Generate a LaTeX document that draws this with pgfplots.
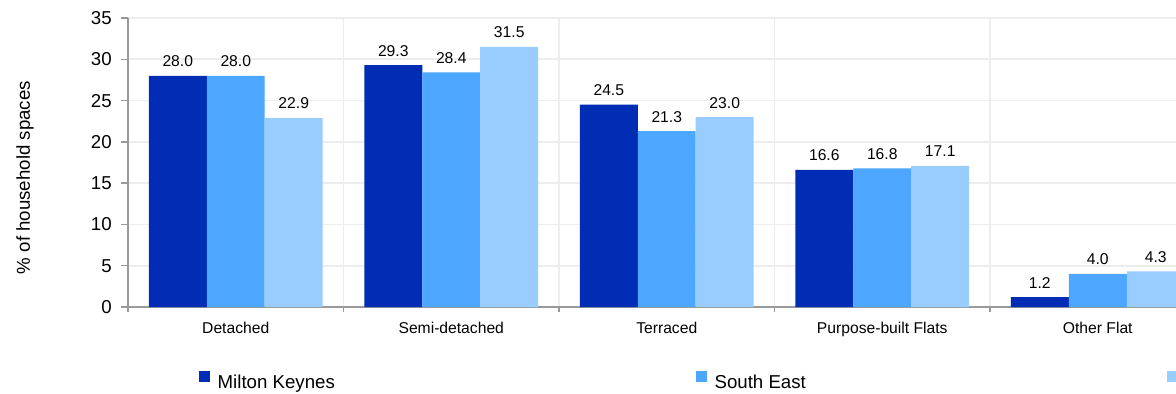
\documentclass[border=0pt]{standalone}
\usepackage{pgfplots}
\pgfplotsset{compat=1.18}
\usepackage{fontspec}
\setmainfont{Liberation Sans}
\definecolor{mkblue}{HTML}{002DB3}
\definecolor{seblue}{HTML}{4DA6FF}
\definecolor{enblue}{HTML}{99CCFF}
\definecolor{axgray}{HTML}{999999}
\definecolor{gridgray}{HTML}{EDEDED}
\pgfplotstableread{
x  mk   se   en
0  28.0 28.0 22.9
1  29.3 28.4 31.5
2  24.5 21.3 23.0
3  16.6 16.8 17.1
4  1.2  4.0  4.3
}\housedata
\begin{document}
\begin{tikzpicture}
\begin{axis}[
  at={(0pt,0pt)}, anchor=south west,
  scale only axis,
  width=646.5pt, height=173.4pt,
  xmin=-0.5, xmax=4.5, ymin=0, ymax=35,
  enlarge x limits=false, enlarge y limits=false,
  ybar=0pt, bar width=0.269,
  /pgf/number format/assume math mode=true,
  axis x line*=bottom, axis y line*=left,
  axis line style={-, draw=axgray, line width=1.2pt},
  xtick={0,1,2,3,4},
  xticklabels={Detached,Semi-detached,Terraced,Purpose-built Flats,Other Flat},
  minor xtick={-0.5,0.5,1.5,2.5,3.5,4.5},
  major x tick style={draw=none},
  minor x tick style={draw=axgray, line width=0.8pt},
  minor tick length=2.7pt,
  xminorgrids=true, xmajorgrids=false,
  ytick={0,5,...,35},
  ymajorgrids=true,
  major grid style={draw=gridgray, line width=1pt},
  minor grid style={draw=gridgray, line width=1pt},
  ytick style={draw=axgray, line width=0.8pt},
  major tick length=4.2pt,
  tick align=outside,
  yticklabel style={font=\fontsize{11.2}{13}\selectfont, inner sep=0pt, anchor=east, xshift=-5.4pt},
  xticklabel style={font=\fontsize{9.4}{11}\selectfont, inner sep=0pt, anchor=base, yshift=-11.6pt},
  ylabel={\% of household spaces},
  every axis y label/.style={at={(axis description cs:-0.0956,0.448)}, rotate=90, anchor=center, font=\fontsize{11.2}{13}\selectfont},
  nodes near coords,
  every node near coord/.append style={font=\fontsize{9.4}{11}\selectfont, anchor=base, inner sep=0pt, yshift=5.4pt, /pgf/number format/.cd, fixed, fixed zerofill, precision=1},
  legend columns=3,
  legend image code/.code={\fill[#1] (0pt,0.3pt) rectangle (6.6pt,6.9pt);},
  legend style={draw=none, fill=none, inner sep=0pt, outer sep=0pt,
    at={(axis description cs:0.0659,-0.2215)}, anchor=north west,
    font=\fontsize{11.2}{13}\selectfont,
    nodes={inner sep=0pt},
    /tikz/every odd column/.append style={column sep=4.6pt},
    /tikz/every even column/.append style={column sep=216.6pt}},
]
\addplot[fill=mkblue, draw=none] table[x=x, y=mk] {\housedata};
\addlegendentry{Milton Keynes}
\addplot[fill=seblue, draw=none] table[x=x, y=se] {\housedata};
\addlegendentry{South East}
\addplot[fill=enblue, draw=none] table[x=x, y=en] {\housedata};
\addlegendentry{England}
\end{axis}
\pgfresetboundingbox
\path[use as bounding box] (-76.8pt,-51.6pt) rectangle (628.8pt,184.2pt);
\end{tikzpicture}
\end{document}
